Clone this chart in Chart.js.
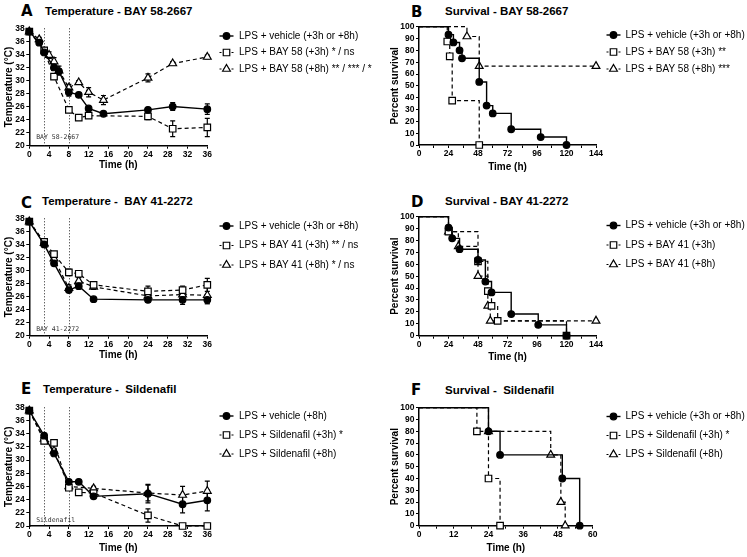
<!DOCTYPE html>
<html>
<head>
<meta charset="utf-8">
<script src="https://cdn.jsdelivr.net/npm/chart.js@4.4.1/dist/chart.umd.min.js"></script>
<style>
  body { margin: 0; background: #fff; width: 747px; height: 557px; position: relative; overflow: hidden; }
  canvas { position: absolute; }
  .letter { position: absolute; font: bold 15px "DejaVu Sans", sans-serif; line-height: 15px; color: #000; }
  .ttl { position: absolute; font: bold 11.5px "Liberation Sans", Arial, sans-serif; line-height: 12px; white-space: pre; color: #000; }
</style>
</head>
<body>
<div class="letter" style="left:21px;top:4px">A</div>
<div class="ttl" style="left:45px;top:5px">Temperature - BAY 58-2667</div>
<div class="letter" style="left:411px;top:5px">B</div>
<div class="ttl" style="left:445px;top:5px">Survival - BAY 58-2667</div>
<div class="letter" style="left:21px;top:196px">C</div>
<div class="ttl" style="left:42px;top:195px">Temperature -  BAY 41-2272</div>
<div class="letter" style="left:411px;top:195px">D</div>
<div class="ttl" style="left:445px;top:195px">Survival - BAY 41-2272</div>
<div class="letter" style="left:21px;top:382px">E</div>
<div class="ttl" style="left:43px;top:383px">Temperature -  Sildenafil</div>
<div class="letter" style="left:411px;top:383px">F</div>
<div class="ttl" style="left:445px;top:384px">Survival -  Sildenafil</div>

<script>
// ---- A: temperature, BAY 58-2667 ----
const A_veh_t = [0, 2, 3, 5, 6, 8, 10, 12, 15, 24, 29, 36];
const A_veh   = [37.5, 35.8, 34.3, 32.0, 31.4, 28.2, 27.8, 25.7, 24.9, 25.5, 26.0, 25.6];
const A_veh_e = [0, 0.2, 0.3, 0.3, 0.4, 0.6, 0.3, 0.2, 0.2, 0.3, 0.6, 0.8];
const A_h3_t  = [0, 3, 5, 8, 10, 12, 24, 29, 36];
const A_h3    = [37.5, 34.6, 30.6, 25.5, 24.3, 24.6, 24.5, 22.6, 22.8];
const A_h3_e  = [0, 0.4, 0.4, 0.4, 0.3, 0.3, 0.5, 1.2, 1.4];
const A_h8_t  = [0, 2, 4, 5, 6, 8, 10, 12, 15, 24, 29, 36];
const A_h8    = [37.5, 36.3, 33.9, 32.9, 31.5, 28.9, 29.7, 28.2, 27.0, 30.4, 32.6, 33.6];
const A_h8_e  = [0, 0.3, 0.5, 0.6, 0.7, 0.5, 0.3, 0.7, 0.7, 0.6, 0.3, 0.3];
const A_labels = ["LPS + vehicle (+3h or +8h)", "LPS + BAY 58 (+3h) * / ns", "LPS + BAY 58 (+8h) ** / *** / *"];

// ---- B: survival, BAY 58-2667 ----
const B_veh_t = [0, 24, 28, 33, 35, 49, 55, 60, 75, 99, 120];
const B_veh   = [100, 93.3, 86.7, 80, 73.3, 53.3, 33.3, 26.7, 13.3, 6.7, 0];
const B_h3_t  = [0, 23, 25, 27, 49];
const B_h3    = [100, 87.5, 75, 37.5, 0];
const B_h8_t  = [0, 39, 49, 144];
const B_h8    = [100, 91.7, 66.7, 66.7];
const B_labels = ["LPS + vehicle (+3h or +8h)", "LPS + BAY 58 (+3h) **", "LPS + BAY 58 (+8h) ***"];

// ---- C: temperature, BAY 41-2272 ----
const C_t     = [0, 3, 5, 8, 10, 13, 24, 31, 36];
const C_veh   = [37.5, 34.0, 31.1, 27.0, 27.6, 25.6, 25.5, 25.5, 25.5];
const C_veh_e = [0, 0.3, 0.3, 0.3, 0.4, 0.2, 0.4, 0.7, 0.6];
const C_h3    = [37.5, 34.4, 32.5, 29.7, 29.5, 27.8, 26.8, 27.0, 27.8];
const C_h3_e  = [0, 0.3, 0.3, 0.5, 0.4, 0.3, 0.8, 0.6, 1.0];
const C_h8    = [37.5, 34.2, 31.8, 27.3, 28.4, 27.5, 26.1, 26.3, 26.2];
const C_h8_e  = [0, 0.3, 0.4, 0.5, 0.5, 0.4, 0.6, 0.8, 1.3];
const C_labels = ["LPS + vehicle (+3h or +8h)", "LPS + BAY 41 (+3h) ** / ns", "LPS + BAY 41 (+8h) * / ns"];

// ---- D: survival, BAY 41-2272 ----
const D_veh_t = [0, 24, 27, 33, 48, 54, 59, 75, 97, 120];
const D_veh   = [100, 90.9, 81.8, 72.7, 63.6, 45.5, 36.4, 18.2, 9.1, 0];
const D_h3_t  = [0, 24, 48, 56, 59, 64, 120];
const D_h3    = [100, 87.5, 62.5, 37.5, 25, 12.5, 0];
const D_h8_t  = [0, 24, 32, 48, 56, 58, 144];
const D_h8    = [100, 87.5, 75, 50, 25, 12.5, 12.5];
const D_labels = ["LPS + vehicle (+3h or +8h)", "LPS + BAY 41 (+3h)", "LPS + BAY 41 (+8h)"];

// ---- E: temperature, Sildenafil ----
const E_t     = [0, 3, 5, 8, 10, 13, 24, 31, 36];
const E_veh   = [37.5, 33.7, 31.0, 26.7, 26.7, 24.5, 24.9, 23.3, 23.9];
const E_veh_e = [0, 0.3, 0.3, 0.3, 0.3, 0.3, 1.4, 1.3, 1.6];
const E_h3    = [37.5, 32.9, 32.6, 25.8, 25.1, 25.0, 21.6, 20.0, 20.0];
const E_h3_e  = [0, 0.3, 0.3, 0.4, 0.3, 0.3, 1.0, 0, 0];
const E_h8_t  = [0, 3, 5, 8, 13, 24, 31, 36];
const E_h8    = [37.5, 33.2, 31.4, 26.0, 25.7, 25.0, 24.7, 25.3];
const E_h8_e  = [0, 0.3, 0.3, 0.4, 0.3, 1.2, 1.3, 1.5];
const E_labels = ["LPS + vehicle (+8h)", "LPS + Sildenafil (+3h) *", "LPS + Sildenafil (+8h)"];

// ---- F: survival, Sildenafil ----
const F_veh_t = [0, 24, 28, 49.5, 55.5];
const F_veh   = [100, 80, 60, 40, 0];
const F_h3_t  = [0, 20, 24, 28];
const F_h3    = [100, 80, 40, 0];
const F_h8_t  = [0, 24, 45.5, 49, 50.5];
const F_h8    = [100, 80, 60, 20, 0];
const F_labels = ["LPS + vehicle (+3h or +8h)", "LPS + Sildenafil (+3h) *", "LPS + Sildenafil (+8h)"];

// tick labels
const survXLabels = [0, 24, 48, 72, 96, 120, 144];
const sildXLabels = [0, 12, 24, 36, 48, 60];

const FONT = "'Liberation Sans', Arial, Helvetica, sans-serif";
const STYLE = {
  veh: { dash: [], pointStyle: "circle", radius: 3.3, fill: "#000", width: 1.4 },
  h3:  { dash: [4, 3], pointStyle: "rect", radius: 4.6, fill: "#fff", width: 1.2 },
  h8:  { dash: [4, 3], pointStyle: "triangle", radius: 4.5, fill: "#fff", width: 1.2 }
};

function makeSet(label, t, y, err, kind, surv) {
  const s = STYLE[kind];
  return {
    label,
    data: t.map((x, i) => ({ x, y: y[i] })),
    err,
    kind,
    borderColor: "#000",
    borderWidth: s.width,
    borderDash: s.dash,
    pointStyle: s.pointStyle,
    pointRadius: surv ? t.map((x, i) => (i === 0 ? 0 : s.radius)) : s.radius,
    pointBackgroundColor: s.fill,
    pointBorderColor: "#000",
    pointBorderWidth: 1.2,
    stepped: surv ? "before" : false,
    clip: false,
    fill: false,
    tension: 0
  };
}

const extras = {
  id: "extras",
  beforeDatasetsDraw(chart, args, opts) {
    const { ctx, chartArea, scales: { x, y } } = chart;
    if (opts.marks) {
      ctx.save();
      ctx.strokeStyle = "#222";
      ctx.lineWidth = 1;
      ctx.setLineDash([1, 2]);
      opts.marks.forEach(m => {
        const px = Math.round(x.getPixelForValue(m)) + 0.5;
        ctx.beginPath();
        ctx.moveTo(px, chartArea.top);
        ctx.lineTo(px, chartArea.bottom);
        ctx.stroke();
      });
      ctx.setLineDash([]);
      ctx.font = "6.5px 'DejaVu Sans Mono', monospace";
      ctx.fillStyle = "#333";
      ctx.fillText(opts.markText, x.getPixelForValue(opts.marks[0]) - 8, chartArea.bottom - opts.markLift);
      ctx.restore();
    }
    // error bars (SEM)
    chart.data.datasets.forEach(ds => {
      if (!ds.err) return;
      ctx.save();
      ctx.strokeStyle = "#000";
      ctx.lineWidth = 1.2;
      ds.data.forEach((p, i) => {
        const e = ds.err[i];
        if (!e) return;
        const px = x.getPixelForValue(p.x);
        const top = y.getPixelForValue(p.y + e), bot = y.getPixelForValue(p.y - e);
        ctx.beginPath();
        ctx.moveTo(px, top); ctx.lineTo(px, bot);
        ctx.moveTo(px - 2.5, top); ctx.lineTo(px + 2.5, top);
        ctx.moveTo(px - 2.5, bot); ctx.lineTo(px + 2.5, bot);
        ctx.stroke();
      });
      ctx.restore();
    });
  },
  afterDraw(chart, args, opts) {
    const lg = opts.legend;
    if (!lg) return;
    const ctx = chart.ctx;
    chart.data.datasets.forEach((ds, i) => {
      const s = STYLE[ds.kind];
      const yy = lg.y + i * lg.gap;
      ctx.save();
      ctx.strokeStyle = "#000";
      ctx.lineWidth = s.width;
      ctx.setLineDash(s.dash.length ? [2, 2] : []);
      ctx.beginPath();
      ctx.moveTo(lg.x - 7, yy); ctx.lineTo(lg.x + 7, yy);
      ctx.stroke();
      ctx.setLineDash([]);
      ctx.fillStyle = s.fill;
      ctx.lineWidth = 1.2;
      Chart.helpers.drawPoint(ctx, { pointStyle: s.pointStyle, radius: s.radius, borderWidth: 1.2, rotation: 0 }, lg.x, yy);
      ctx.fillStyle = "#000";
      ctx.font = "10px " + FONT;
      ctx.textBaseline = "middle";
      ctx.fillText(ds.label, lg.tx, yy);
      ctx.restore();
    });
  }
};

function tickFont() { return { family: FONT, size: 8.5, weight: "bold" }; }
function titleFont() { return { family: FONT, size: 10, weight: "bold" }; }

function panel(p) {
  const cv = document.createElement("canvas");
  cv.width = p.box.width;
  cv.height = p.box.height;
  cv.style.left = p.box.left + "px";
  cv.style.top = p.box.top + "px";
  document.body.appendChild(cv);
  const a = p.area, b = p.box;
  new Chart(cv.getContext("2d"), {
    type: "line",
    data: { datasets: p.datasets },
    plugins: [extras],
    options: {
      responsive: false,
      animation: false,
      devicePixelRatio: 1,
      layout: {
        padding: {
          left: 0,
          top: a.t - b.top,
          right: b.left + b.width - a.r,
          bottom: b.top + b.height - a.b - p.xh
        }
      },
      plugins: {
        legend: { display: false },
        tooltip: { enabled: false },
        extras: {
          marks: p.marks,
          markText: p.markText,
          markLift: p.markLift,
          legend: { x: p.legend.x - b.left, tx: p.legend.tx - b.left, y: p.legend.y - b.top, gap: p.legend.gap }
        }
      },
      scales: {
        x: {
          type: "linear",
          min: p.x.min, max: p.x.max,
          ticks: {
            stepSize: p.x.step, autoSkip: false, maxRotation: 0, color: "#000", padding: 1,
            font: tickFont(),
            callback: v => (!p.x.labels || p.x.labels.includes(v)) ? v : ""
          },
          grid: { drawOnChartArea: false, drawTicks: true, tickLength: 3, color: "#000", lineWidth: 1 },
          border: { color: "#000", width: 1.5 },
          title: { display: true, text: "Time (h)", color: "#000", font: titleFont(), padding: { top: 0, bottom: 0 } },
          afterFit: s => { s.height = p.xh; }
        },
        y: {
          min: p.y.min, max: p.y.max,
          ticks: { stepSize: p.y.step, autoSkip: false, color: "#000", padding: 1.5, font: tickFont() },
          grid: { drawOnChartArea: false, drawTicks: true, tickLength: 3, color: "#000", lineWidth: 1 },
          border: { color: "#000", width: 1.5 },
          title: { display: true, text: p.y.title, color: "#000", font: titleFont(), padding: { top: p.yTitleX - b.left - 6, bottom: 0 } },
          afterFit: s => { s.width = a.l - b.left; }
        }
      }
    }
  });
}

const tempY = { min: 20, max: 38, step: 2, title: "Temperature (°C)" };
const survY = { min: 0, max: 100, step: 10, title: "Percent survival" };
const tempX = { min: 0, max: 36, step: 4 };

panel({
  box: { left: 0, top: 0, width: 380, height: 185 },
  area: { l: 29.3, t: 28.3, r: 207.3, b: 145.7 }, xh: 25.5, yTitleX: 9,
  x: tempX, y: tempY,
  marks: [3, 8], markText: "BAY 58-2667", markLift: 6.4,
  legend: { x: 226.5, tx: 239, y: 36, gap: 16.5 },
  datasets: [
    makeSet(A_labels[0], A_veh_t, A_veh, A_veh_e, "veh"),
    makeSet(A_labels[1], A_h3_t, A_h3, A_h3_e, "h3"),
    makeSet(A_labels[2], A_h8_t, A_h8, A_h8_e, "h8")
  ]
});

panel({
  box: { left: 380, top: 0, width: 367, height: 185 },
  area: { l: 419, t: 26.7, r: 596, b: 145 }, xh: 28.5, yTitleX: 395.5,
  x: { min: 0, max: 144, step: 12, labels: survXLabels }, y: survY,
  legend: { x: 613.5, tx: 625.5, y: 35, gap: 17 },
  datasets: [
    makeSet(B_labels[0], B_veh_t, B_veh, null, "veh", true),
    makeSet(B_labels[1], B_h3_t, B_h3, null, "h3", true),
    makeSet(B_labels[2], B_h8_t, B_h8, null, "h8", true)
  ]
});

panel({
  box: { left: 0, top: 190, width: 380, height: 180 },
  area: { l: 29.3, t: 218.3, r: 207.3, b: 335.7 }, xh: 26, yTitleX: 9,
  x: tempX, y: tempY,
  marks: [3, 8], markText: "BAY 41-2272", markLift: 5,
  legend: { x: 226.5, tx: 239, y: 226, gap: 19.5 },
  datasets: [
    makeSet(C_labels[0], C_t, C_veh, C_veh_e, "veh"),
    makeSet(C_labels[1], C_t, C_h3, C_h3_e, "h3"),
    makeSet(C_labels[2], C_t, C_h8, C_h8_e, "h8")
  ]
});

panel({
  box: { left: 380, top: 190, width: 367, height: 180 },
  area: { l: 419, t: 216.7, r: 596, b: 335.7 }, xh: 28, yTitleX: 395.5,
  x: { min: 0, max: 144, step: 12, labels: survXLabels }, y: survY,
  legend: { x: 613.5, tx: 625.5, y: 225.5, gap: 19.5 },
  datasets: [
    makeSet(D_labels[0], D_veh_t, D_veh, null, "veh", true),
    makeSet(D_labels[1], D_h3_t, D_h3, null, "h3", true),
    makeSet(D_labels[2], D_h8_t, D_h8, null, "h8", true)
  ]
});

panel({
  box: { left: 0, top: 375, width: 380, height: 182 },
  area: { l: 29.3, t: 407.3, r: 207.3, b: 526 }, xh: 28.3, yTitleX: 9,
  x: tempX, y: tempY,
  marks: [3, 8], markText: "Sildenafil", markLift: 4,
  legend: { x: 226.5, tx: 239, y: 416, gap: 19 },
  datasets: [
    makeSet(E_labels[0], E_t, E_veh, E_veh_e, "veh"),
    makeSet(E_labels[1], E_t, E_h3, E_h3_e, "h3"),
    makeSet(E_labels[2], E_h8_t, E_h8, E_h8_e, "h8")
  ]
});

panel({
  box: { left: 380, top: 375, width: 367, height: 182 },
  area: { l: 419, t: 407.7, r: 592.7, b: 525.7 }, xh: 28.6, yTitleX: 395.5,
  x: { min: 0, max: 60, step: 6, labels: sildXLabels }, y: survY,
  legend: { x: 613.5, tx: 625.5, y: 416.5, gap: 19 },
  datasets: [
    makeSet(F_labels[0], F_veh_t, F_veh, null, "veh", true),
    makeSet(F_labels[1], F_h3_t, F_h3, null, "h3", true),
    makeSet(F_labels[2], F_h8_t, F_h8, null, "h8", true)
  ]
});
</script>
</body>
</html>
